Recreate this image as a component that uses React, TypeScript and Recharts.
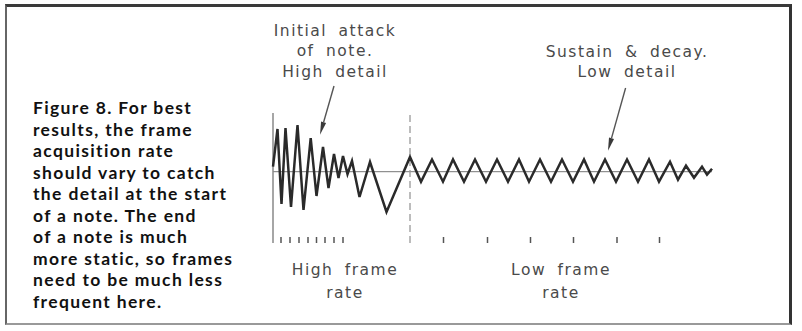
import { LineChart, Line, XAxis, YAxis, ReferenceLine } from 'recharts';

// waveform samples: time (arbitrary units) and amplitude
const times = [
  0, 4.5, 8.5, 12.5, 18, 24.5, 30.5, 37.7, 43.5, 50, 55.5, 61, 65.5, 70, 74.5, 79,
  86.5, 97, 113.5, 137, 148, 159, 170, 180, 191, 202, 213, 224, 235, 246, 256, 267,
  278, 289, 300, 311, 321, 332, 343, 354, 365, 376, 386, 397, 405, 413, 421, 429, 434, 439,
];
const amplitudes = [
  5, 42.7, -32.3, 43.7, -35.3, 46.7, -38.3, 33.7, -24.3, 24.7, -16.3, 17.7, -6.3, 15.7, -2.3, 10.7,
  -25.3, 9.7, -40.3, 14.7, -10, 12.2, -10, 12.2, -10, 12.2, -10, 12.2, -10, 12.2, -10, 12.2,
  -10, 12.2, -10, 12.2, -10, 12.2, -10, 12.2, -10, 12.2, -10, 10, -8, 6, -6, 5, -3, 3,
];

// frame acquisition instants
const highRateFrames = [8, 17, 26, 35, 43.5, 52, 61, 70];
const lowRateFrames = [170.5, 214.5, 257.5, 300.5, 344, 386.5];
const attackEnd = 137;

// annotation arrows, [tail, head] in data units
const attackArrow = [{ x: 61, y: 85.7 }, { x: 47, y: 37 }];
const sustainArrow = [{ x: 352.6, y: 83.7 }, { x: 335, y: 21 }];

const captionLines = [
  'Figure 8. For best',
  'results, the frame',
  'acquisition rate',
  'should vary to catch',
  'the detail at the start',
  'of a note. The end',
  'of a note is much',
  'more static, so frames',
  'need to be much less',
  'frequent here.',
];

const data = times.map((t, i) => ({ t, v: amplitudes[i] }));

const drawFont = "'DejaVu Sans', sans-serif";

function Arrow(props: any) {
  const { x1, y1, x2, y2 } = props;
  const dx = x2 - x1;
  const dy = y2 - y1;
  const len = Math.hypot(dx, dy) || 1;
  const ux = dx / len;
  const uy = dy / len;
  const bx = x2 - ux * 13;
  const by = y2 - uy * 13;
  const px = -uy * 2.6;
  const py = ux * 2.6;
  return (
    <g>
      <line x1={x1} y1={y1} x2={bx} y2={by} stroke="#555" strokeWidth={1.4} />
      <polygon points={`${x2},${y2} ${bx + px},${by + py} ${bx - px},${by - py}`} fill="#3a3a3a" />
    </g>
  );
}

function Note({ x, y, lines, lineHeight }: { x: number; y: number; lines: string[]; lineHeight: number }) {
  return (
    <div
      style={{
        position: 'absolute',
        left: x - 120,
        top: y - lineHeight / 2,
        width: 240,
        textAlign: 'center',
        fontFamily: drawFont,
        fontSize: 15.5,
        letterSpacing: 1.5,
        wordSpacing: 5,
        lineHeight: `${lineHeight}px`,
        color: '#4a4a4a',
        whiteSpace: 'pre',
      }}
    >
      {lines.map((l) => (
        <div key={l}>{l}</div>
      ))}
    </div>
  );
}

export default function App() {
  return (
    <div style={{ position: 'absolute', left: 0, top: 0, width: 802, height: 331, background: '#fff' }}>
      <div
        style={{
          position: 'absolute',
          left: 5,
          top: 4,
          width: 782,
          height: 316,
          borderTop: '3px solid #3a3a3a',
          borderLeft: '2px solid #666',
          borderRight: '3px solid #333',
          borderBottom: '2px solid #999',
        }}
      />

      <div
        style={{
          position: 'absolute',
          left: 33,
          top: 97,
          fontFamily: "Lato, sans-serif",
          fontWeight: 700,
          fontSize: 17.5,
          letterSpacing: 1.35,
          lineHeight: '21.5px',
          color: '#111',
          whiteSpace: 'pre',
        }}
      >
        {captionLines.map((l) => (
          <div key={l}>{l}</div>
        ))}
      </div>

      <Note x={335} y={31} lineHeight={20.5} lines={['Initial attack', 'of note.', 'High detail']} />
      <Note x={627} y={52} lineHeight={20.5} lines={['Sustain & decay.', 'Low detail']} />
      <Note x={345} y={270} lineHeight={23} lines={['High frame', 'rate']} />
      <Note x={561} y={270} lineHeight={23} lines={['Low frame', 'rate']} />

      <div style={{ position: 'absolute', left: 0, top: 0 }}>
        <LineChart
          width={802}
          height={331}
          data={data}
          margin={{ top: 113, right: 90, bottom: 88, left: 273 }}
        >
          <XAxis
            type="number"
            dataKey="t"
            domain={[0, 439]}
            ticks={[...highRateFrames, ...lowRateFrames]}
            interval={0}
            mirror
            axisLine={false}
            tickSize={6}
            tickLine={{ stroke: '#555', strokeWidth: 1.5 }}
            tick={() => <g />}
          />
          <YAxis type="number" hide domain={[-71.3, 58.7]} allowDataOverflow />
          <ReferenceLine y={0} stroke="#777" strokeWidth={1} />
          <ReferenceLine x={0} stroke="#888" strokeWidth={1.5} />
          <ReferenceLine x={attackEnd} stroke="#999" strokeWidth={1.3} strokeDasharray="7 4" />
          <Line
            type="linear"
            dataKey="v"
            stroke="#2a2a2a"
            strokeWidth={2.5}
            dot={false}
            isAnimationActive={false}
          />
          <ReferenceLine segment={attackArrow} ifOverflow="visible" shape={Arrow} />
          <ReferenceLine segment={sustainArrow} ifOverflow="visible" shape={Arrow} />
        </LineChart>
      </div>
    </div>
  );
}
